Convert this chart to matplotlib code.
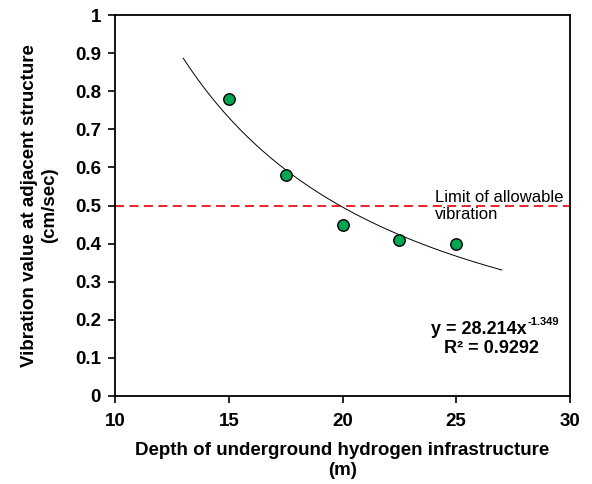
import numpy as np
import matplotlib
matplotlib.use("Agg")
import matplotlib.pyplot as plt

plt.rcParams['font.family'] = ['Liberation Sans', 'DejaVu Sans']

depth = [15, 17.5, 20, 22.5, 25]
vibration = [0.78, 0.58, 0.45, 0.41, 0.40]
coef_a = 28.214
coef_b = -1.349
fit_range = [13, 27]
limit = 0.5
xticks = [10, 15, 20, 25, 30]
yticks = [0, 0.1, 0.2, 0.3, 0.4, 0.5, 0.6, 0.7, 0.8, 0.9, 1]

fig = plt.figure(figsize=(5.92, 4.84), dpi=100)
ax = fig.add_axes([115/592, 1-396/484, (570-115)/592, (396-15)/484])

xf = np.linspace(fit_range[0], fit_range[1], 200)
ax.plot(xf, coef_a * xf ** coef_b, color='black', lw=0.7, zorder=2)
ax.axhline(limit, color='#e8141c', lw=1.3, ls=(0, (5, 3)), zorder=1)
ax.scatter(depth, vibration, s=68, facecolor='#00a651', edgecolor='black', lw=1.0, zorder=3)

ax.set_xlim(10, 30)
ax.set_ylim(0, 1)
ax.set_xticks(xticks)
ax.set_yticks(yticks)
ax.set_xticklabels([str(t) for t in xticks])
ax.set_yticklabels(['0'] + [f'{t:g}' for t in yticks[1:-1]] + ['1'])
for lab in ax.get_xticklabels() + ax.get_yticklabels():
    lab.set_fontweight('bold')
    lab.set_fontsize(13.5)
ax.tick_params(direction='out', length=5, width=1.2, pad=5)
ax.tick_params(axis='x', pad=7)
for s in ax.spines.values():
    s.set_linewidth(1.3)

ax.set_xlabel('Depth of underground hydrogen infrastructure\n(m)', fontsize=13.5, fontweight='bold', labelpad=9, linespacing=1.2)
ax.set_ylabel('Vibration value at adjacent structure\n(cm/sec)', fontsize=13.5, fontweight='bold', labelpad=12, linespacing=1.25)

ax.text(24.05, 0.498, 'Limit of allowable\nvibration', fontsize=12, ha='left', va='center', linespacing=1.15)

eq_x = 26.55
anchor = eq_x + 1.55
ax.text(anchor, 0.175, 'y = 28.214x', fontsize=13, fontweight='bold', ha='right', va='center')
ax.annotate('-1.349', xy=(anchor, 0.175), xytext=(0.5, 5.5), textcoords='offset points',
            fontsize=8, fontweight='bold', ha='left', va='center')
ax.text(eq_x, 0.125, 'R² = 0.9292', fontsize=13, fontweight='bold', ha='center', va='center')

fig.savefig('out.png', dpi=100)
